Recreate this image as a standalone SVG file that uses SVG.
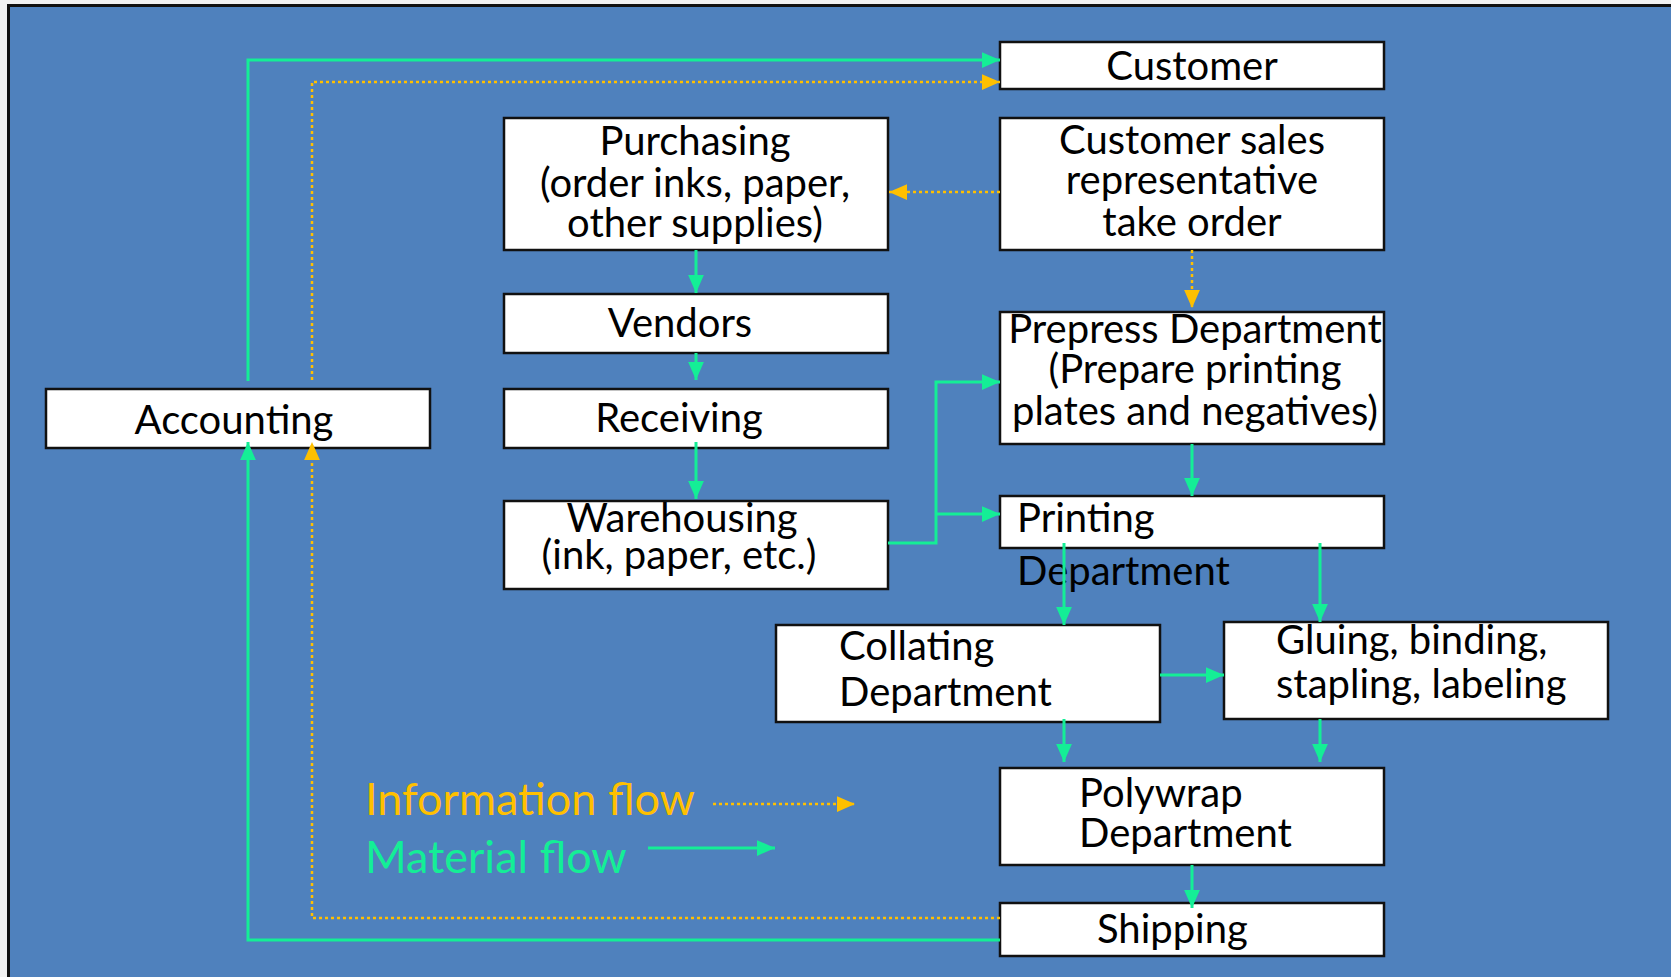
<svg xmlns="http://www.w3.org/2000/svg" width="1671" height="977" viewBox="0 0 1671 977">
<style>
.box{fill:#ffffff;stroke:#111111;stroke-width:2.5}
.t{font-family:Lato,"Open Sans","Liberation Sans",sans-serif;font-size:40px;fill:#000000}
.c{text-anchor:middle}
.mat{fill:none;stroke:#14EE96;stroke-width:3}
.inf{fill:none;stroke:#FFC000;stroke-width:2.5;stroke-dasharray:3 3}
.lg{font-family:Lato,"Open Sans","Liberation Sans",sans-serif;font-size:45px}
</style>
<defs>
<marker id="ag" markerUnits="userSpaceOnUse" markerWidth="18" markerHeight="16" viewBox="0 0 16 14" refX="16" refY="7" orient="auto">
<path d="M0,0 L16,7 L0,14 Z" fill="#14EE96"/>
</marker>
<marker id="ay" markerUnits="userSpaceOnUse" markerWidth="18" markerHeight="16" viewBox="0 0 16 14" refX="16" refY="7" orient="auto">
<path d="M0,0 L16,7 L0,14 Z" fill="#FFC000"/>
</marker>
</defs>
<rect x="0" y="0" width="1671" height="977" fill="#f2f2f2"/>
<rect x="8.5" y="5.5" width="1700" height="1000" fill="#4F81BD" stroke="#111111" stroke-width="3"/>

<g id="customer"><rect class="box" x="1000" y="42" width="384" height="47"/><text class="t c" x="1192" y="80">Customer</text></g>
<g id="sales"><rect class="box" x="1000" y="118" width="384" height="132"/><text class="t c" x="1192" y="154">Customer sales</text><text class="t c" x="1192" y="194">representative</text><text class="t c" x="1192" y="236">take order</text></g>
<g id="purchasing"><rect class="box" x="504" y="118" width="384" height="132"/><text class="t c" x="695" y="155">Purchasing</text><text class="t c" x="695" y="197">(order inks, paper,</text><text class="t c" x="695" y="237">other supplies)</text></g>
<g id="vendors"><rect class="box" x="504" y="294" width="384" height="59"/><text class="t c" x="680" y="337">Vendors</text></g>
<g id="receiving"><rect class="box" x="504" y="389" width="384" height="59"/><text class="t c" x="679" y="432">Receiving</text></g>
<g id="warehousing"><rect class="box" x="504" y="501" width="384" height="88"/><text class="t c" x="682" y="532">Warehousing</text><text class="t c" x="679" y="569">(ink, paper, etc.)</text></g>
<g id="accounting"><rect class="box" x="46" y="389" width="384" height="59"/><text class="t c" x="234" y="434">Accounting</text></g>
<g id="prepress"><rect class="box" x="1000" y="312" width="384" height="132"/><text class="t c" x="1195" y="343">Prepress Department</text><text class="t c" x="1195" y="383">(Prepare printing</text><text class="t c" x="1195" y="425">plates and negatives)</text></g>
<g id="printing"><rect class="box" x="1000" y="496" width="384" height="52"/><text class="t" x="1017" y="532">Printing</text><text class="t" x="1017" y="585">Department</text></g>
<g id="collating"><rect class="box" x="776" y="625" width="384" height="97"/><text class="t" x="839" y="660">Collating</text><text class="t" x="839" y="706">Department</text></g>
<g id="gluing"><rect class="box" x="1224" y="622" width="384" height="97"/><text class="t" x="1276" y="654">Gluing, binding,</text><text class="t" x="1276" y="698">stapling, labeling</text></g>
<g id="polywrap"><rect class="box" x="1000" y="768" width="384" height="97"/><text class="t" x="1079" y="807">Polywrap</text><text class="t" x="1079" y="847">Department</text></g>
<g id="shipping"><rect class="box" x="1000" y="903" width="384" height="53"/><text class="t" x="1097" y="943">Shipping</text></g>

<g id="legend">
<text class="lg" x="365" y="815" fill="#FFC000">Information flow</text>
<text class="lg" x="365" y="873" fill="#14EE96">Material flow</text>
<path class="inf" d="M713,804 H855" marker-end="url(#ay)"/>
<path class="mat" d="M648,848 H775" marker-end="url(#ag)"/>
</g>

<g id="connectors">
<path class="mat" d="M248,381 V60 H1000" marker-end="url(#ag)"/>
<path class="mat" d="M1000,940 H248 V442" marker-end="url(#ag)"/>
<path class="inf" d="M312,380 V82 H1000" marker-end="url(#ay)"/>
<path class="inf" d="M1000,918 H312 V442" marker-end="url(#ay)"/>
<path class="inf" d="M1000,192 H889" marker-end="url(#ay)"/>
<path class="inf" d="M1192,250 V308" marker-end="url(#ay)"/>
<path class="mat" d="M696,250 V293" marker-end="url(#ag)"/>
<path class="mat" d="M696,353 V380" marker-end="url(#ag)"/>
<path class="mat" d="M696,442 V499" marker-end="url(#ag)"/>
<path class="mat" d="M888,543 H936 V382 H1000" marker-end="url(#ag)"/>
<path class="mat" d="M936,514 H1000" marker-end="url(#ag)"/>
<path class="mat" d="M1192,444 V496" marker-end="url(#ag)"/>
<path class="mat" d="M1064,543 V625" marker-end="url(#ag)"/>
<path class="mat" d="M1320,543 V622" marker-end="url(#ag)"/>
<path class="mat" d="M1160,675 H1224" marker-end="url(#ag)"/>
<path class="mat" d="M1064,719 V762" marker-end="url(#ag)"/>
<path class="mat" d="M1320,719 V762" marker-end="url(#ag)"/>
<path class="mat" d="M1192,865 V908" marker-end="url(#ag)"/>
</g>
</svg>
